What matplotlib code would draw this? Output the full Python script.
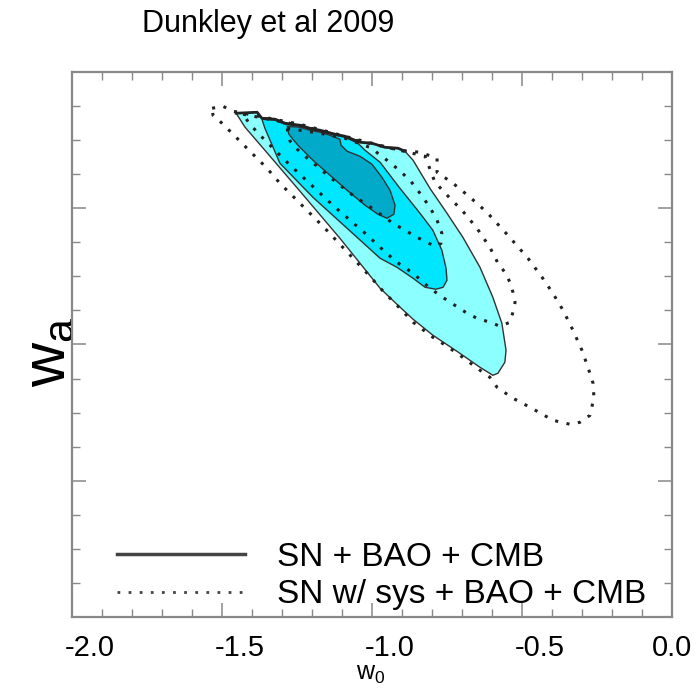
import matplotlib
matplotlib.use('Agg')
import matplotlib.pyplot as plt
import matplotlib.transforms as mtransforms
from matplotlib.lines import Line2D
from matplotlib.ticker import MultipleLocator
import numpy as np

plt.rcParams['font.family'] = ['Liberation Sans', 'DejaVu Sans']
plt.rcParams['mathtext.fontset'] = 'custom'
plt.rcParams['mathtext.rm'] = 'Liberation Sans'
plt.rcParams['mathtext.it'] = 'Liberation Sans'

# ---------------- data (w0, wa) ----------------
title_text = "Dunkley et al 2009"
xtick_values = [-2.0, -1.5, -1.0, -0.5, 0.0]
xtick_labels = ["-2.0", "-1.5", "-1.0", "-0.5", "0.0"]
legend_labels = ["SN + BAO + CMB", "SN w/ sys + BAO + CMB"]

# SN + BAO + CMB : outer (light) region
s3_w0 = [-1.453, -1.383, -1.367, -1.323, -1.290, -1.240, -1.207, -1.173, -1.123, -1.090,
         -1.040, -1.000, -0.957, -0.913, -0.890, -0.863, -0.807, -0.750, -0.697, -0.640,
         -0.597, -0.567, -0.553, -0.557, -0.580, -0.597, -0.640, -0.717, -0.797, -0.863,
         -0.917, -0.973, -1.107, -1.240, -1.357, -1.423]
s3_wa = [1.395, 1.409, 1.321, 1.307, 1.248, 1.218, 1.174, 1.145, 1.086, 1.057,
         0.969, 0.954, 0.895, 0.881, 0.837, 0.705, 0.294, -0.073, -0.426, -0.866,
         -1.307, -1.688, -2.085, -2.261, -2.422, -2.452, -2.334, -2.099, -1.864, -1.629,
         -1.409, -1.174, -0.440, 0.250, 0.851, 1.189]

# SN + BAO + CMB : middle region
s2_w0 = [-1.367, -1.323, -1.290, -1.240, -1.207, -1.173, -1.123, -1.090, -1.047, -1.023,
         -0.973, -0.907, -0.840, -0.797, -0.767, -0.753, -0.750, -0.763, -0.787, -0.823,
         -0.863, -0.917, -0.973, -1.083, -1.197, -1.307, -1.357]
s2_wa = [1.307, 1.292, 1.233, 1.204, 1.160, 1.130, 1.072, 1.042, 0.954, 0.851,
         0.675, 0.294, -0.073, -0.323, -0.617, -0.881, -1.057, -1.160, -1.189, -1.160,
         -1.028, -0.866, -0.734, -0.294, 0.161, 0.661, 1.174]

# SN + BAO + CMB : inner (dark) region
s1_w0 = [-1.283, -1.240, -1.207, -1.173, -1.140, -1.107, -1.103, -1.083, -1.040, -1.000,
         -0.967, -0.940, -0.923, -0.927, -0.950, -0.980, -1.023, -1.083, -1.140, -1.197,
         -1.247, -1.277]
s1_wa = [1.204, 1.189, 1.145, 1.116, 1.072, 1.013, 0.925, 0.837, 0.763, 0.646,
         0.455, 0.264, 0.044, -0.088, -0.147, -0.088, 0.044, 0.264, 0.484, 0.705,
         0.925, 1.086]

# SN w/ sys + BAO + CMB : outer dotted contour
d3_w0 = [-1.533, -1.497, -1.463, -1.240, -1.040, -0.907, -0.840, -0.783, -0.783, -0.730,
         -0.673, -0.617, -0.547, -0.480, -0.433, -0.397, -0.363, -0.330, -0.300, -0.280,
         -0.263, -0.260, -0.273, -0.307, -0.340, -0.397, -0.467, -0.530, -0.583, -0.607,
         -0.640, -0.707, -0.750, -0.797, -0.863, -0.907, -0.963, -1.007, -1.057, -1.107,
         -1.157, -1.207, -1.257, -1.307, -1.350, -1.400, -1.450, -1.500, -1.530]
d3_wa = [1.468, 1.497, 1.424, 1.233, 0.998, 0.851, 0.822, 0.734, 0.528, 0.367,
         0.161, -0.059, -0.396, -0.734, -1.013, -1.248, -1.497, -1.791, -2.085, -2.334,
         -2.569, -2.775, -3.039, -3.142, -3.171, -3.112, -2.936, -2.789, -2.628, -2.481,
         -2.378, -2.158, -2.026, -1.894, -1.673, -1.468, -1.218, -0.998, -0.763, -0.528,
         -0.294, -0.073, 0.147, 0.367, 0.587, 0.807, 1.028, 1.248, 1.365]

# SN w/ sys + BAO + CMB : middle dotted contour
d2_w0 = [-1.430, -1.240, -1.040, -0.907, -0.823, -0.790, -0.740, -0.700, -0.650, -0.607,
         -0.580, -0.557, -0.540, -0.530, -0.523, -0.530, -0.540, -0.573, -0.607, -0.650,
         -0.683, -0.750, -0.807, -0.863, -0.917, -0.973, -1.023, -1.073, -1.123, -1.173,
         -1.230, -1.283, -1.330, -1.373, -1.407]
d2_wa = [1.380, 1.218, 0.984, 0.851, 0.763, 0.382, 0.147, -0.029, -0.294, -0.573,
         -0.807, -0.940, -1.086, -1.233, -1.380, -1.527, -1.673, -1.732, -1.673, -1.615,
         -1.541, -1.350, -1.174, -0.954, -0.793, -0.573, -0.367, -0.176, 0.015, 0.220,
         0.455, 0.675, 0.881, 1.072, 1.233]

# SN w/ sys + BAO + CMB : inner dotted contour
d1_w0 = [-1.283, -1.173, -1.090, -1.000, -0.973, -0.950, -0.917, -0.873, -0.840, -0.807,
         -0.783, -0.767, -0.770, -0.783, -0.797, -0.850, -0.930, -1.000, -1.073, -1.140,
         -1.207, -1.240, -1.273]
d1_wa = [1.174, 1.101, 1.028, 0.881, 0.778, 0.705, 0.587, 0.411, 0.220, 0.015,
         -0.176, -0.367, -0.514, -0.558, -0.543, -0.426, -0.220, 0.000, 0.220, 0.455,
         0.705, 0.822, 0.984]

# ---------------- styling ----------------
c_light = '#8cffff'
c_mid = '#00e6ff'
c_dark = '#00aac8'
edge_c = '#333333'
dot_c = '#222222'
spine_c = '#888888'

fig = plt.figure(figsize=(7.0, 6.91), dpi=100)
ax = fig.add_axes([0.1029, 0.1071, 0.857, 0.7887])

ax.fill(s3_w0, s3_wa, facecolor=c_light, edgecolor=edge_c, linewidth=1.0, zorder=2)
ax.fill(s2_w0, s2_wa, facecolor=c_mid, edgecolor=edge_c, linewidth=1.0, zorder=3)
ax.fill(s1_w0, s1_wa, facecolor=c_dark, edgecolor=edge_c, linewidth=1.0, zorder=4)
# jagged upper boundary (shared top edge of the solid contours)
ax.plot(s3_w0[:15], s3_wa[:15], color='#222222', linewidth=2.0, zorder=5)

for xs, ys in [(d1_w0, d1_wa), (d2_w0, d2_wa), (d3_w0, d3_wa)]:
    ax.plot(list(xs) + [xs[0]], list(ys) + [ys[0]], color=dot_c, linewidth=2.2,
            linestyle=(0, (1, 2.8)), dash_capstyle='butt', zorder=6)

ax.set_xlim(-2.0, 0.0)
ax.set_ylim(-6.0, 2.0)
ax.set_xticks(xtick_values)
ax.set_xticklabels(xtick_labels)
ax.xaxis.set_minor_locator(MultipleLocator(0.1))
ax.yaxis.set_major_locator(MultipleLocator(2.0))
ax.yaxis.set_minor_locator(MultipleLocator(0.5))
ax.tick_params(which='both', direction='in', top=True, right=True, colors=spine_c,
               labelcolor='black')
ax.tick_params(which='major', length=10, width=1.1)
ax.tick_params(which='minor', length=5.5, width=1.0)
ax.tick_params(axis='x', labelsize=21, pad=12)
ax.tick_params(axis='y', labelleft=False)
for s in ax.spines.values():
    s.set_color(spine_c)
    s.set_linewidth(1.6)

# negative tick labels sit a little right of their tick in the reference
shift = mtransforms.ScaledTranslation(13 / 72, 0, fig.dpi_scale_trans)
for lab, txt in zip(ax.get_xticklabels(), xtick_labels):
    if txt.startswith('-'):
        lab.set_transform(lab.get_transform() + shift)

ax.set_xlabel(r'$\mathregular{w_0}$', fontsize=18)
ax.xaxis.set_label_coords(0.497, -0.083)
ax.xaxis.label.set_va('top')
ax.set_ylabel(r'$\mathregular{w_a}$', fontsize=44)
ax.yaxis.label.set_va('center')
ax.yaxis.set_label_coords(-0.038, 0.486)

handles = [Line2D([], [], color='#444444', linewidth=2.5),
           Line2D([], [], color='#444444', linewidth=2.0, linestyle=(0, (1, 3)),
                  dash_capstyle='butt')]
ax.legend(handles, legend_labels, loc='lower left', bbox_to_anchor=(0.075, 0.012),
          frameon=False, fontsize=24, handlelength=3.85, handletextpad=0.95,
          labelspacing=0.2, borderpad=0.0, borderaxespad=0.0)

fig.text(142 / 700, 1 - 24 / 691, title_text, fontsize=22, ha='left', va='center')

fig.savefig('out.png', dpi=100)
